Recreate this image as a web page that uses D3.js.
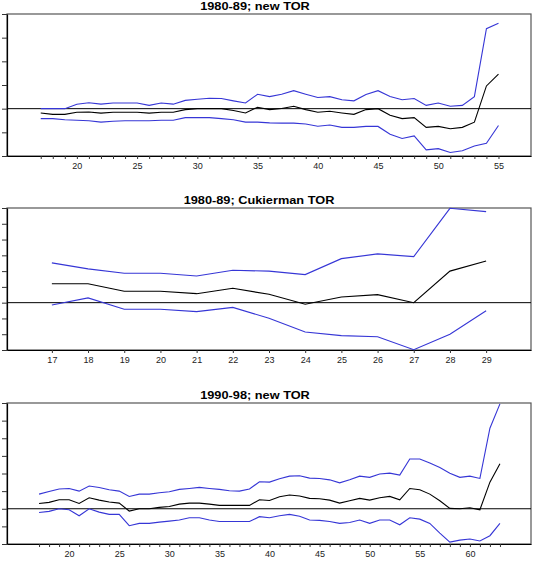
<!DOCTYPE html>
<html>
<head>
<meta charset="utf-8">
<script src="https://cdn.jsdelivr.net/npm/d3@7"></script>
<style>
  body { margin: 0; background: #fff; }
  text { font-family: "Liberation Sans", Arial, sans-serif; }
</style>
</head>
<body>
<div id="container"></div>
<script>
/* CONSTANTS AND GLOBALS */
const width = 536,
  height = 565;

/* DATA - panel 1: 1980-89; new TOR */
const ages1 = d3.range(17, 56);
const upper1 = [0, 0, 0, 0.19, 0.25, 0.19, 0.24, 0.24, 0.24, 0.14, 0.24, 0.19, 0.35, 0.4, 0.44, 0.43, 0.33, 0.24, 0.61,
  0.51, 0.61, 0.76, 0.61, 0.47, 0.51, 0.38, 0.33, 0.6, 0.76, 0.51, 0.38, 0.43, 0.14, 0.24, 0.1, 0.14, 0.51, 3.38, 3.61];
const mid1 = [-0.18, -0.24, -0.24, -0.15, -0.14, -0.19, -0.15, -0.15, -0.15, -0.19, -0.15, -0.15, -0.04, 0, 0, 0, -0.08, -0.18, 0.06,
  -0.04, 0.01, 0.1, -0.04, -0.15, -0.11, -0.18, -0.24, -0.04, 0, -0.28, -0.42, -0.38, -0.79, -0.75, -0.85, -0.79, -0.57, 0.96, 1.46];
const lower1 = [-0.42, -0.42, -0.47, -0.49, -0.51, -0.57, -0.53, -0.51, -0.51, -0.51, -0.49, -0.49, -0.38, -0.38, -0.38, -0.42, -0.47, -0.57, -0.57,
  -0.6, -0.61, -0.61, -0.65, -0.74, -0.69, -0.79, -0.79, -0.75, -0.75, -1.08, -1.26, -1.15, -1.74, -1.69, -1.85, -1.78, -1.58, -1.46, -0.71];

/* DATA - panel 2: 1980-89; Cukierman TOR */
const ages2 = d3.range(17, 30);
const upper2 = [2.52, 2.14, 1.86, 1.86, 1.69, 2.05, 2.0, 1.78, 2.79, 3.09, 2.92, 5.98, 5.77];
const mid2 = [1.2, 1.2, 0.72, 0.72, 0.57, 0.91, 0.53, -0.1, 0.36, 0.51, 0, 2.0, 2.64];
const lower2 = [-0.15, 0.3, -0.42, -0.42, -0.57, -0.3, -0.99, -1.86, -2.09, -2.16, -2.98, -2.0, -0.51];

/* DATA - panel 3: 1990-98; new TOR */
const ages3 = d3.range(17, 64);
const upper3 = [0.83, 0.98, 1.12, 1.15, 1.0, 1.29, 1.21, 1.08, 1.0, 0.7, 0.83, 0.83, 0.91, 0.96, 1.1, 1.15, 1.21, 1.15, 1.1, 1.02, 1.0, 1.12, 1.53,
  1.51, 1.7, 1.85, 1.87, 1.74, 1.72, 1.64, 1.47, 1.64, 1.85, 1.78, 1.97, 2.02, 1.91, 2.82, 2.82, 2.59, 2.34, 2.02, 1.78, 1.85, 1.72, 4.57, 5.95];
const mid3 = [0.3, 0.36, 0.51, 0.51, 0.3, 0.62, 0.49, 0.38, 0.32, -0.13, 0, 0, 0.08, 0.13, 0.26, 0.32, 0.32, 0.26, 0.19, 0.19, 0.19, 0.19, 0.51,
  0.47, 0.68, 0.78, 0.72, 0.59, 0.57, 0.49, 0.32, 0.45, 0.59, 0.49, 0.62, 0.7, 0.51, 1.15, 1.08, 0.83, 0.45, 0.02, 0, 0.06, -0.06, 1.51, 2.55];
const lower3 = [-0.21, -0.15, 0, -0.06, -0.4, 0, -0.19, -0.32, -0.32, -0.96, -0.83, -0.83, -0.76, -0.7, -0.64, -0.51, -0.51, -0.64, -0.72, -0.72, -0.72, -0.72, -0.45,
  -0.51, -0.4, -0.32, -0.43, -0.64, -0.66, -0.72, -0.83, -0.78, -0.64, -0.83, -0.64, -0.64, -0.91, -0.51, -0.59, -0.83, -1.38, -1.89, -1.78, -1.72, -1.83, -1.53, -0.83];

const titles = ["1980-89; new TOR", "1980-89; Cukierman TOR", "1990-98; new TOR"];

/* panel layout */
const panels = [
  { title: titles[0], titleX: 255, ages: ages1, upper: upper1, mid: mid1, lower: lower1,
    top: 14, bottom: 156, xDomain: [14.2, 57.7], yDomain: [-2, 4], yTicks: d3.range(-2, 5), labelEvery: 5 },
  { title: titles[1], titleX: 259, ages: ages2, upper: upper2, mid: mid2, lower: lower2,
    top: 208, bottom: 350, xDomain: [15.76, 30.24], yDomain: [-3, 6], yTicks: d3.range(-3, 7), labelEvery: 1 },
  { title: titles[2], titleX: 255, ages: ages3, upper: upper3, mid: mid3, lower: lower3,
    top: 403, bottom: 544, xDomain: [13.8, 66.1], yDomain: [-2, 6], yTicks: d3.range(-2, 7), labelEvery: 5 }
];

const left = 7, right = 531;
const blue = "#3636d6";

const svg = d3.select("#container").append("svg")
  .attr("width", width)
  .attr("height", height);

panels.forEach(p => {
  const g = svg.append("g");

  const xScale = d3.scaleLinear().domain(p.xDomain).range([left, right]);
  const yScale = d3.scaleLinear().domain(p.yDomain).range([p.bottom, p.top]);

  // frame
  g.append("rect")
    .attr("x", left)
    .attr("y", p.top)
    .attr("width", right - left)
    .attr("height", p.bottom - p.top)
    .attr("fill", "none")
    .attr("stroke", "#555")
    .attr("stroke-width", 1.2);

  // title (slightly wide lettering, like the original)
  g.append("text")
    .attr("transform", `translate(${p.titleX},${p.top - 4}) scale(1.16,1)`)
    .attr("text-anchor", "middle")
    .attr("font-size", 11)
    .attr("font-weight", "bold")
    .text(p.title);

  // x axis
  const xAxis = d3.axisBottom(xScale)
    .tickValues(p.ages)
    .tickSize(3)
    .tickSizeOuter(0)
    .tickFormat(d => d % p.labelEvery === 0 ? d : "");
  const gx = g.append("g")
    .attr("transform", `translate(0,${p.bottom})`)
    .call(xAxis);
  gx.select(".domain").attr("stroke", "#000").attr("stroke-width", 1.2);
  gx.selectAll(".tick line").attr("stroke", "#333");
  gx.selectAll(".tick text")
    .attr("font-size", 9)
    .attr("fill", "#222")
    .attr("dy", "0.9em")
    .attr("y", 5);

  // y axis (ticks only, no labels)
  const yAxis = d3.axisLeft(yScale)
    .tickValues(p.yTicks)
    .tickSize(5)
    .tickSizeOuter(0)
    .tickFormat("");
  const gy = g.append("g")
    .attr("transform", `translate(${left},0)`)
    .call(yAxis);
  gy.select(".domain").attr("stroke", "#000").attr("stroke-width", 1.2);
  gy.selectAll(".tick line").attr("stroke", "#333");

  // zero line
  g.append("line")
    .attr("x1", left)
    .attr("x2", right)
    .attr("y1", yScale(0))
    .attr("y2", yScale(0))
    .attr("stroke", "#000")
    .attr("stroke-width", 1);

  const line = d3.line()
    .x((d, i) => xScale(p.ages[i]))
    .y(d => yScale(d));

  const series = [
    { values: p.upper, color: blue },
    { values: p.lower, color: blue },
    { values: p.mid, color: "#000" }
  ];

  g.selectAll(".series")
    .data(series)
    .join("path")
    .attr("class", "series")
    .attr("fill", "none")
    .attr("stroke", d => d.color)
    .attr("stroke-width", 1.1)
    .attr("d", d => line(d.values));
});
</script>
</body>
</html>
